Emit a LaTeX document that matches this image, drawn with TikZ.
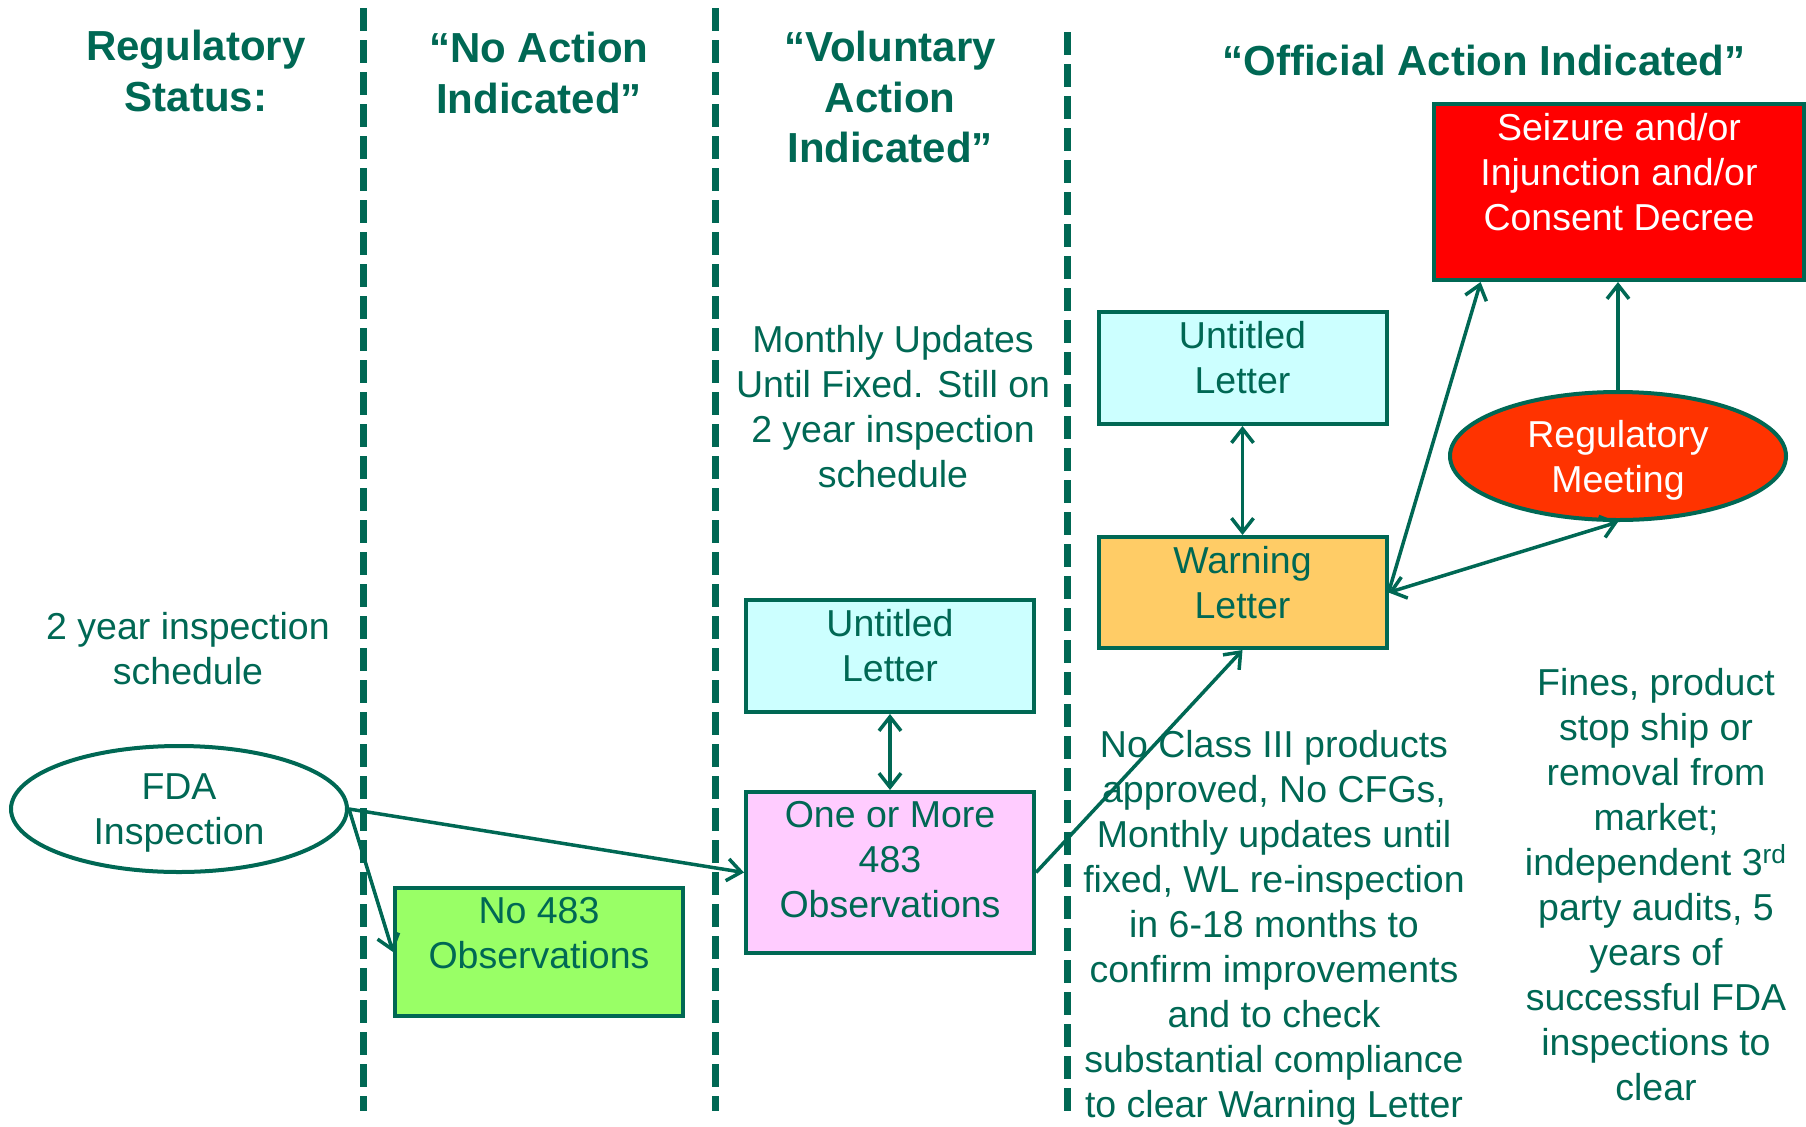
\documentclass[tikz,border=0pt]{standalone}
\usepackage{fontspec}
\setmainfont{Liberation Sans}
\usetikzlibrary{arrows.meta,shapes.geometric,calc}

\definecolor{fdagreen}{RGB}{0,104,84}
\definecolor{cyanfill}{RGB}{204,255,255}
\definecolor{warnfill}{RGB}{255,204,102}
\definecolor{pinkfill}{RGB}{255,204,255}
\definecolor{greenfill}{RGB}{153,255,102}
\definecolor{meetfill}{RGB}{255,51,0}
\definecolor{seizefill}{RGB}{255,0,0}

\tikzset{
  divider/.style={color=fdagreen, line width=3.5pt, dash pattern=on 11.5pt off 4.5pt},
  heading/.style={text=fdagreen, align=center, inner sep=0pt, font=\fontsize{21}{25.2}\selectfont\bfseries},
  note/.style={text=fdagreen, align=center, inner sep=0pt, font=\fontsize{18.75}{22.5}\selectfont},
  statebox/.style={draw=fdagreen, line width=2pt, text=fdagreen, align=center, inner sep=0pt,
    minimum width=144pt, font=\fontsize{18.75}{22.5}\selectfont},
  oval/.style={ellipse, draw=fdagreen, line width=2pt, align=center, inner sep=0pt, text depth=0pt,
    minimum width=168pt, minimum height=63pt, font=\fontsize{18.75}{22.5}\selectfont},
  link/.style={draw=fdagreen, line width=1.75pt, -{Straight Barb[length=7pt,width=11pt]}},
  twoway/.style={draw=fdagreen, line width=1.75pt, {Straight Barb[length=7pt,width=11pt]}-{Straight Barb[length=7pt,width=11pt]}},
}

\begin{document}
\begin{tikzpicture}[x=0.5pt,y=0.5pt,yscale=-1,xscale=1]
\useasboundingbox (0,0) rectangle (1806,1126);

% Column dividers
\draw [divider] (363,8) -- (363,1111);
\draw [divider] (715,8) -- (715,1111);
\draw [divider] (1067,32) -- (1067,1111);

% Column headings
\node [heading] (statusHead) at (196,71) {Regulatory\\Status:};
\node [heading] (naiHead) at (539,73) {“No Action\\Indicated”};
\node [heading] (vaiHead) at (890,97) {“Voluntary\\Action\\Indicated”};
\node [heading] (oaiHead) at (1484,60) {“Official Action Indicated”};

% Notes
\node [note] (scheduleNote) at (188,649) {2 year inspection\\schedule};
\node [note] (monthlyNote) at (893,407) {Monthly Updates\\Until Fixed. Still on\\2 year inspection\\schedule};
\node [note] (warnNote) at (1274,928) {No Class III products\\approved, No CFGs,\\Monthly updates until\\fixed, WL re-inspection\\in 6-18 months to\\confirm improvements\\and to check\\substantial compliance\\to clear Warning Letter};
\node [note] (oaiNote) at (1656,885) {Fines, product\\stop ship or\\removal from\\market;\\independent 3\textsuperscript{rd}\\party audits, 5\\years of\\successful FDA\\inspections to\\clear};

% Ellipses
\node [oval, fill=white, text=fdagreen] (fda) at (179,809) {FDA\\Inspection};
\node [oval, fill=meetfill, text=white, minimum height=64pt] (meeting) at (1618,456) {Regulatory\\Meeting};

% Boxes
\node [statebox, fill=greenfill, minimum height=64pt, text depth=18.7pt] (noObs) at (539,952) {No 483\\Observations};
\node [statebox, fill=pinkfill, minimum height=80.5pt, text depth=12.7pt] (obs) at (890,872.5) {One or More\\483\\Observations};
\node [statebox, fill=cyanfill, minimum height=56pt, text depth=10.7pt] (untitledVai) at (890,656) {Untitled\\Letter};
\node [statebox, fill=cyanfill, minimum height=56pt, text depth=10.7pt] (untitledOai) at (1242.5,368) {Untitled\\Letter};
\node [statebox, fill=warnfill, minimum height=55.5pt, text depth=10.2pt] (warning) at (1242.5,592.5) {Warning\\Letter};
\node [statebox, fill=seizefill, text=white, minimum width=185pt, minimum height=88pt, text depth=20.2pt] (seizure) at (1619,192) {Seizure and/or\\Injunction and/or\\Consent Decree};

% Connectors
\draw [link] (fda.east) -- (obs.west);
\draw [link] (fda.east) -- (noObs.west);
\draw [twoway] (untitledVai.south) -- (obs.north);
\draw [link] (obs.east) -- (warning.south);
\draw [twoway] (untitledOai.south) -- (warning.north);
\draw [link] (warning.east) -- ($(seizure.south west)!0.13!(seizure.south east)$);
\draw [link] (meeting.north) -- (meeting.north |- seizure.south);
\draw [twoway] (meeting.south) -- (warning.east);

\end{tikzpicture}
\end{document}
